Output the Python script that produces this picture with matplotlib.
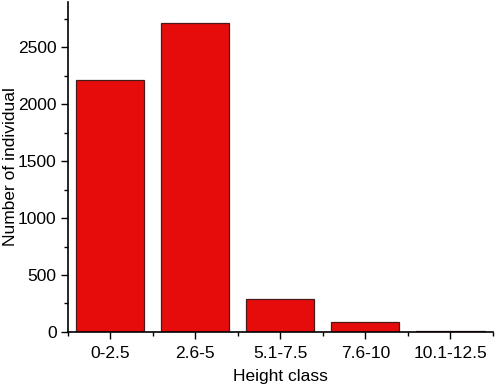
import numpy as np
import matplotlib
matplotlib.use('Agg')
import matplotlib.pyplot as plt
from matplotlib.ticker import MultipleLocator, FixedLocator

plt.rcParams['font.family'] = ['Liberation Sans', 'DejaVu Sans']

# ---------- data ---------- #
classes = ['0-2.5', '2.6-5', '5.1-7.5', '7.6-10', '10.1-12.5']
counts = [2215, 2715, 290, 90, 5]

# ---------- plot ---------- #
fig = plt.figure(figsize=(4.95, 3.85), dpi=100)
ax = fig.add_axes([0.137, 0.138, 0.859, 0.857])

x = np.arange(len(classes))
ax.bar(x, counts, width=0.8, color='#e60c0c', edgecolor='#4a1a1a', linewidth=0.9)

ax.set_xlim(-0.5, len(classes) - 0.5)
ax.set_ylim(0, 2900)
ax.set_xticks(x)
ax.set_xticklabels(classes)
ax.xaxis.set_minor_locator(FixedLocator(np.arange(-0.5, len(classes), 1.0)))
ax.yaxis.set_major_locator(MultipleLocator(500))
ax.yaxis.set_minor_locator(MultipleLocator(250))

ax.tick_params(axis='both', which='major', direction='out', length=5, width=1, labelsize=12.5, colors='black')
ax.tick_params(axis='both', which='minor', direction='out', length=3, width=1)
ax.tick_params(axis='x', which='major', pad=5)
ax.tick_params(axis='y', which='major', pad=3)

for s in ['top', 'right']:
	ax.spines[s].set_visible(False)
for s in ['left', 'bottom']:
	ax.spines[s].set_linewidth(1.2)

ax.set_xlabel('Height class', fontsize=12.5)
ax.set_ylabel('Number of individual', fontsize=12.5)
# put axis labels where the reference has them
ax.xaxis.set_label_coords(0.5, -0.112)
ax.yaxis.set_label_coords(-0.118, 0.5)

fig.savefig('out.png', dpi=100)
